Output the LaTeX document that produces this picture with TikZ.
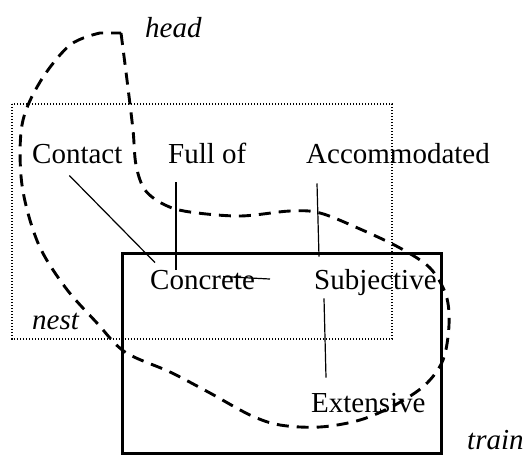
\documentclass[tikz,border=0pt]{standalone}
\usepackage{fontspec}
\setmainfont{Liberation Serif}
\begin{document}
\begin{tikzpicture}[x=1pt, y=-1pt,
    every node/.style={inner sep=0, anchor=base west, font=\fontsize{29}{34}\selectfont},
    tag/.style={font=\fontsize{29}{34}\selectfont\itshape},
    link/.style={line width=1.2pt},
    headline/.style={line width=2.9pt, dash pattern=on 12pt off 8pt}]
    \useasboundingbox (0,0) rectangle (532,455) ;
    \draw [line width=1.1pt, dash pattern=on 1.1pt off 1.9pt] (12,104) rectangle (392,339) ;
    \draw [line width=3pt] (122,253) rectangle (441,453) ;
    \draw [headline] plot [smooth, tension=0.55] coordinates {(121,33) (127,80) (133,130) (136,165) (145,190) (165,205) (190,212) (240,216) (290,211) (320,213) (360,229) (400,248) (430,268) (446,295) (449,325) (443,360) (425,385) (395,405) (360,420) (320,427) (280,425) (250,415) (210,393) (170,372) (125,352) (97,323) (65,287) (38,243) (22,185) (22,125) (40,82) (70,45) (100,33)} -- cycle ;

    \node (contact) at (32,163) {Contact} ;
    \node (fullof) at (168,163) {Full of} ;
    \node (accom) at (306,163) {Accommodated} ;
    \node (concrete) at (150,289) {Concrete} ;
    \node (subj) at (314,289) {Subjective} ;
    \node (ext) at (311,412) {Extensive} ;
    \node [tag] (head) at (145,37) {head} ;
    \node [tag] (nest) at (32,329) {nest} ;
    \node [tag] (train) at (467,449) {train} ;

    \draw [link] ([shift={(-8,12)}]contact.south) -- ([shift={(5,-7)}]concrete.north west) ;
    \draw [link] ([shift={(8,19)}]fullof.south west) -- ([shift={(26,0)}]concrete.north west) ;
    \draw [link] ([shift={(-32,-3)}]concrete.east) -- ([shift={(-44,-3)}]subj.west) ;
    \draw [link] ([shift={(11,20)}]accom.south west) -- ([shift={(5,-12)}]subj.north west) ;
    \draw [link] ([shift={(10,3)}]subj.south west) -- ([shift={(15,-15)}]ext.north west) ;
\end{tikzpicture}
\end{document}
